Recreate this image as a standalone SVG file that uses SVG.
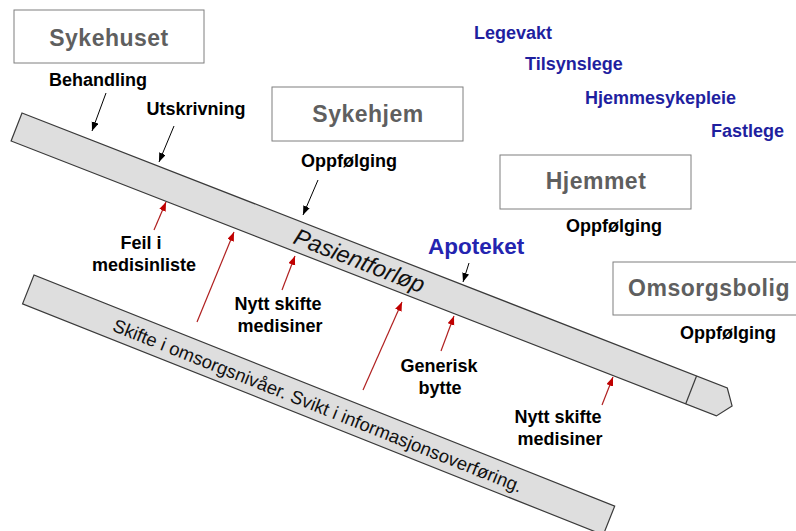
<svg xmlns="http://www.w3.org/2000/svg" width="796" height="531" viewBox="0 0 796 531">
<style>
.box{fill:#fff;stroke:#7f7f7f;stroke-width:1}
.bt{font-family:"Liberation Sans",Arial,sans-serif;font-weight:bold;font-size:23px;fill:#5f5f5f;text-anchor:middle;letter-spacing:0.5px}
.lbl{font-family:"Liberation Sans",Arial,sans-serif;font-weight:bold;font-size:18px;fill:#000;text-anchor:middle}
.blue{font-family:"Liberation Sans",Arial,sans-serif;font-weight:bold;font-size:18px;fill:#1f1f9f}
.band{fill:#dedede;stroke:#3a3a3a;stroke-width:1.2}
.ka{stroke:#000;stroke-width:1;fill:none;marker-end:url(#ak)}
.ra{stroke:#b02020;stroke-width:1.2;fill:none;marker-end:url(#ar)}
</style>
<defs>
<marker id="ak" markerUnits="userSpaceOnUse" markerWidth="10" markerHeight="8" refX="9" refY="3.5" orient="auto"><path d="M0,0 L9,3.5 L0,7 Z" fill="#000"/></marker>
<marker id="ar" markerUnits="userSpaceOnUse" markerWidth="10" markerHeight="8" refX="9" refY="3.5" orient="auto"><path d="M0,0 L9,3.5 L0,7 Z" fill="#c00000"/></marker>
</defs>
<rect width="796" height="531" fill="#fff"/>

<g id="band-skifte" transform="translate(34,275) rotate(21.7)">
<rect class="band" x="0" y="0" width="625" height="31"/>
<text x="312" y="23" style="font-family:'Liberation Sans',Arial,sans-serif;font-size:18.5px;fill:#111;text-anchor:middle">Skifte i omsorgsnivåer. Svikt i informasjonsoverføring.</text>
</g>

<g id="band-pasientforlop" transform="translate(22,113) rotate(21.3)">
<path class="band" d="M0,0 L757,0 L768,15 L757,30 L0,30 Z"/>
<path d="M724,0 L724,30" stroke="#3a3a3a" stroke-width="1.2"/>
<text x="368" y="23" style="font-family:'Liberation Sans',Arial,sans-serif;font-style:italic;font-size:23.5px;fill:#111;text-anchor:middle">Pasientforløp</text>
</g>

<g id="sykehuset"><rect class="box" x="14" y="10" width="190" height="53"/><text class="bt" x="109" y="46">Sykehuset</text></g>
<g id="sykehjem"><rect class="box" x="272" y="87" width="191" height="54"/><text class="bt" x="368" y="122">Sykehjem</text></g>
<g id="hjemmet"><rect class="box" x="500" y="155" width="191" height="54"/><text class="bt" x="596" y="189">Hjemmet</text></g>
<g id="omsorgsbolig"><rect class="box" x="613" y="262" width="192" height="53"/><text class="bt" x="709" y="296">Omsorgsbolig</text></g>

<g id="blue-labels">
<text class="blue" x="474" y="39">Legevakt</text>
<text class="blue" x="525" y="70">Tilsynslege</text>
<text class="blue" x="585" y="104">Hjemmesykepleie</text>
<text class="blue" x="711" y="137">Fastlege</text>
<text x="428" y="254" style="font-family:'Liberation Sans',Arial,sans-serif;font-weight:bold;font-size:22.5px;fill:#2424b0">Apoteket</text>
</g>

<g id="labels">
<text class="lbl" x="98" y="86">Behandling</text>
<text class="lbl" x="196" y="115">Utskrivning</text>
<text class="lbl" x="349" y="167">Oppfølging</text>
<text class="lbl" x="614" y="232">Oppfølging</text>
<text class="lbl" x="728" y="339">Oppfølging</text>
<text class="lbl" x="141" y="249">Feil i</text>
<text class="lbl" x="144" y="271">medisinliste</text>
<text class="lbl" x="278" y="310">Nytt skifte</text>
<text class="lbl" x="280" y="332">medisiner</text>
<text class="lbl" x="439" y="372">Generisk</text>
<text class="lbl" x="440" y="394">bytte</text>
<text class="lbl" x="558" y="423">Nytt skifte</text>
<text class="lbl" x="560" y="445">medisiner</text>
</g>

<g id="connectors">
<line class="ka" x1="106" y1="93" x2="92" y2="131"/>
<line class="ka" x1="174" y1="126" x2="159" y2="162"/>
<line class="ka" x1="318" y1="180" x2="303" y2="215"/>
<line class="ka" x1="469" y1="263" x2="463" y2="282"/>
<line class="ra" x1="154" y1="230" x2="166" y2="202"/>
<line class="ra" x1="197" y1="322" x2="234" y2="232"/>
<line class="ra" x1="282" y1="290" x2="295" y2="256"/>
<line class="ra" x1="363" y1="390" x2="402" y2="302"/>
<line class="ra" x1="441" y1="351" x2="454" y2="316"/>
<line class="ra" x1="602" y1="405" x2="613" y2="377"/>
</g>
</svg>
